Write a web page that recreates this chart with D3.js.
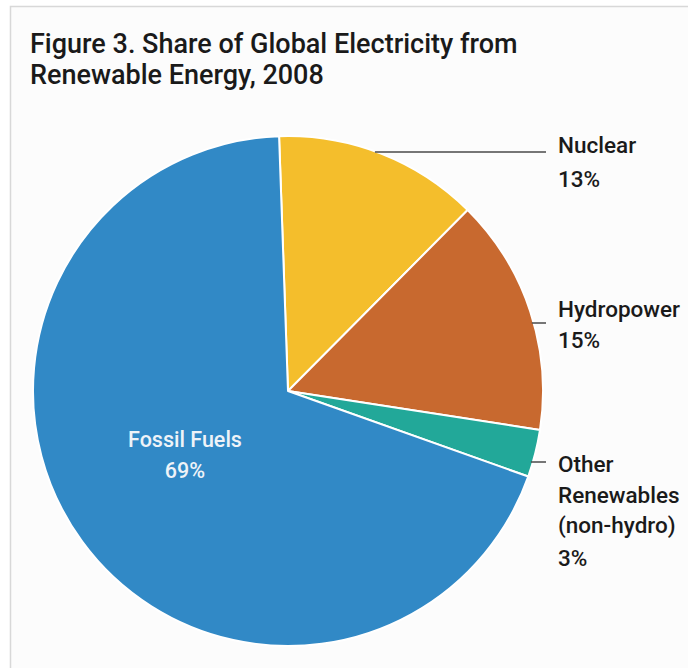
<!DOCTYPE html>
<html>
<head>
<meta charset="utf-8">
<script src="https://cdn.jsdelivr.net/npm/d3@7"></script>
<style>
  html, body { margin: 0; padding: 0; background: #ffffff; }
  svg { display: block; }
</style>
</head>
<body>
<div id="chart"></div>
<script>
// Data
const categories = ["Nuclear", "Hydropower", "Other Renewables (non-hydro)", "Fossil Fuels"];
const shares = [13, 15, 3, 69];
const labelLines = [
  ["Nuclear", "13%"],
  ["Hydropower", "15%"],
  ["Other", "Renewables", "(non-hydro)", "3%"],
  ["Fossil Fuels", "69%"]
];
const colors = ["#f4be2c", "#c8692f", "#22a899", "#3189c6"];

const width = 688;
const height = 668;
const cx = 288, cy = 391, radius = 255;
const labelX = 558;

// label layout (leader y and text baselines)
const leaderY = [152, 323, 462];
const textY = [[153, 187], [317, 348], [472, 503, 533, 566]];

const svg = d3.select("#chart")
  .append("svg")
  .attr("width", width)
  .attr("height", height);

// frame
svg.append("rect")
  .attr("x", 10.5).attr("y", 6.5)
  .attr("width", width).attr("height", height)
  .attr("fill", "#fcfcfc")
  .attr("stroke", "#d8d8d8")
  .attr("stroke-width", 1.5);

// title
const title = svg.append("text")
  .attr("font-family", "Roboto, sans-serif")
  .attr("font-weight", 500)
  .attr("font-size", 27)
  .attr("fill", "#1a1a1a");
title.append("tspan").attr("x", 30).attr("y", 53).text("Figure 3. Share of Global Electricity from");
title.append("tspan").attr("x", 30).attr("y", 84).text("Renewable Energy, 2008");

const data = categories.map((c, i) => ({ name: c, value: shares[i], lines: labelLines[i], color: colors[i] }));

const start = -0.035;
const pie = d3.pie()
  .sort(null)
  .value(d => d.value)
  .startAngle(start)
  .endAngle(start + 2 * Math.PI);

const arc = d3.arc().innerRadius(0).outerRadius(radius);
const arcs = pie(data);

const g = svg.append("g").attr("transform", `translate(${cx},${cy})`);

g.selectAll("path")
  .data(arcs)
  .join("path")
  .attr("d", arc)
  .attr("fill", d => d.data.color)
  .attr("stroke", "#ffffff")
  .attr("stroke-width", 2)
  .attr("stroke-linejoin", "round");

// outside labels for the first three slices
arcs.slice(0, 3).forEach((d, i) => {
  const y0 = leaderY[i];
  const x0 = cx + Math.sqrt(radius * radius - (y0 - cy) * (y0 - cy));
  svg.append("line")
    .attr("x1", x0 - 2).attr("y1", y0)
    .attr("x2", labelX - 12).attr("y2", y0)
    .attr("stroke", "#4a4a4a")
    .attr("stroke-width", 1.5);
  const t = svg.append("text")
    .attr("font-family", "Roboto, sans-serif")
    .attr("font-weight", 500)
    .attr("font-size", 22.5)
    .attr("fill", "#1a1a1a");
  d.data.lines.forEach((s, k) => {
    t.append("tspan")
      .attr("x", labelX)
      .attr("y", textY[i][k])
      .text(s);
  });
});

// inside label for fossil fuels
const fossil = arcs[3];
const ft = svg.append("text")
  .attr("font-family", "Roboto, sans-serif")
  .attr("font-weight", 500)
  .attr("font-size", 21.5)
  .attr("fill", "#eef3f8")
  .attr("text-anchor", "middle");
fossil.data.lines.forEach((s, k) => {
  ft.append("tspan")
    .attr("x", 185)
    .attr("y", 447 + k * 31)
    .text(s);
});
</script>
</body>
</html>
